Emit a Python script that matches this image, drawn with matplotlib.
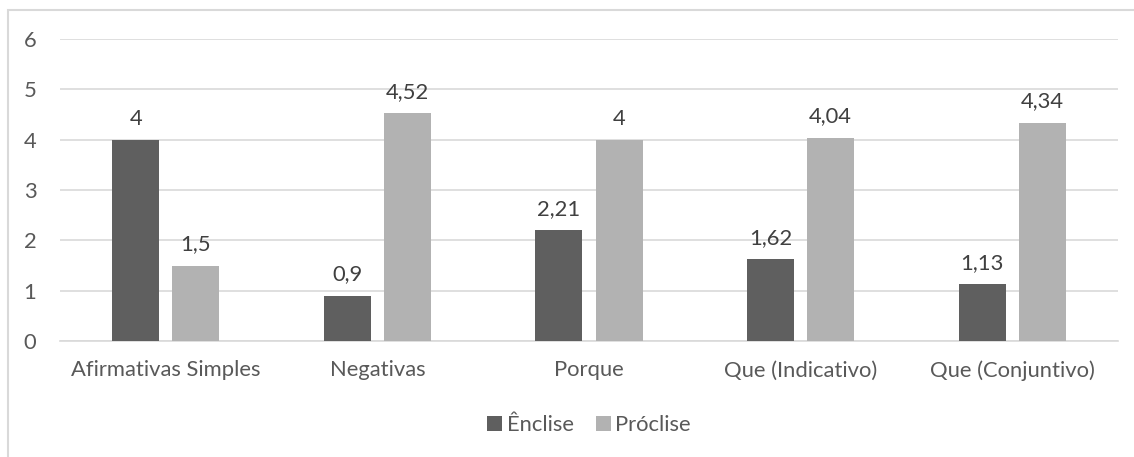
import matplotlib
matplotlib.use("Agg")
import matplotlib.pyplot as plt
import numpy as np
from matplotlib.patches import Rectangle

categories = ["Afirmativas Simples", "Negativas", "Porque", "Que (Indicativo)", "Que (Conjuntivo)"]
enclise = [4, 0.9, 2.21, 1.62, 1.13]
proclise = [1.5, 4.52, 4, 4.04, 4.34]
enclise_labels = ["4", "0,9", "2,21", "1,62", "1,13"]
proclise_labels = ["1,5", "4,52", "4", "4,04", "4,34"]
yticks = [0, 1, 2, 3, 4, 5, 6]

plt.rcParams['font.family'] = ['Lato', 'DejaVu Sans']
txt = '#595959'
fs = 15.8
W, H = 1134, 457
fig = plt.figure(figsize=(W/100, H/100), dpi=100)
# outer border
fig.patches.append(Rectangle((8/W, -0.1), 1.2, (H-10)/H + 0.1, transform=fig.transFigure,
                             fill=False, edgecolor='#d9d9d9', linewidth=1.5))
ax = fig.add_axes([60/W, 1-341/H, (1118-60)/W, (341-39)/H])
x = np.arange(len(categories))
bw = 0.222
off = 0.142
b1 = ax.bar(x - off, enclise, bw, color='#5f5f5f', label='Ênclise', zorder=3)
b2 = ax.bar(x + off, proclise, bw, color='#b2b2b2', label='Próclise', zorder=3)
for rects, labs in ((b1, enclise_labels), (b2, proclise_labels)):
    for r, l in zip(rects, labs):
        ax.annotate(l, (r.get_x() + r.get_width()/2, r.get_height()), xytext=(0, 8),
                    textcoords='offset points', ha='center', va='bottom', fontsize=fs, color='#404040')
ax.set_xlim(-0.5, len(categories) - 0.5)
ax.set_ylim(0, 6)
ax.set_yticks(yticks)
ax.set_yticklabels([str(v) for v in yticks])
ax.set_xticks(x)
ax.set_xticklabels(categories)
ax.tick_params(axis='both', length=0, labelsize=fs, labelcolor=txt)
ax.tick_params(axis='y', pad=17)
ax.tick_params(axis='x', pad=14)
ax.grid(axis='y', color='#d9d9d9', linewidth=1.2, zorder=0)
for s in ['top', 'right', 'left']:
    ax.spines[s].set_visible(False)
ax.spines['bottom'].set_color('#d9d9d9')
ax.spines['bottom'].set_linewidth(1.2)
leg = fig.legend(handles=[b1, b2], loc='center', bbox_to_anchor=(589/W, 1-425/H), ncol=2,
                 frameon=False, fontsize=fs, handlelength=0.7, handleheight=0.7,
                 handletextpad=0.2, columnspacing=1.0)
for t in leg.get_texts():
    t.set_color(txt)
fig.savefig('out.png', dpi=100)
